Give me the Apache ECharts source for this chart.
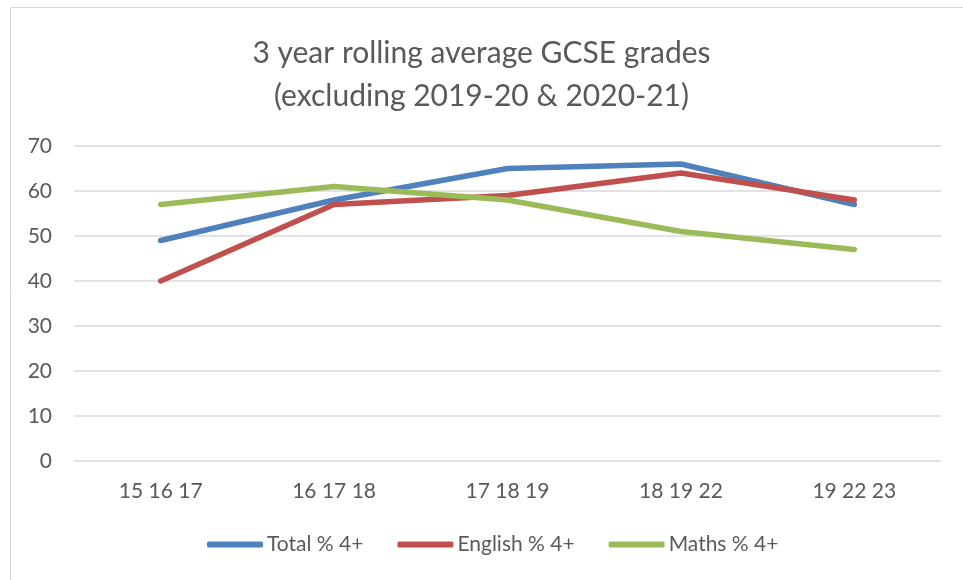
<!DOCTYPE html>
<html><head><meta charset="utf-8">
<script src="https://cdn.jsdelivr.net/npm/echarts@6/dist/echarts.min.js"></script>
<style>html,body{margin:0;padding:0;background:#fff}#c{width:963px;height:580px}</style>
</head><body><div id="c"></div>
<script>
const categories = ['15 16 17', '16 17 18', '17 18 19', '18 19 22', '19 22 23'];
const totalPct = [49, 58, 65, 66, 57];
const englishPct = [40, 57, 59, 64, 58];
const mathsPct = [57, 61, 58, 51, 47];
const seriesNames = ['Total % 4+', 'English % 4+', 'Maths % 4+'];
const colors = ['#4f81bd', '#c0504d', '#9bbb59'];
const FONT = 'Lato, "Open Sans", sans-serif';
const TXT = '#595959';

const chart = echarts.init(document.getElementById('c'), null, {renderer: 'canvas'});
const mk = (name, data, color) => ({
  name, type: 'line', data, symbol: 'none', smooth: false,
  lineStyle: {width: 5.5, color, cap: 'round', join: 'round'},
  itemStyle: {color}
});
chart.setOption({
  animation: false,
  graphic: [{type: 'rect', shape: {x: 10.5, y: 7.5, width: 1000, height: 1000},
    style: {fill: 'none', stroke: '#d9d9d9', lineWidth: 1}, silent: true}],
  title: {
    text: '3 year rolling average GCSE grades\n(excluding 2019-20 & 2020-21)',
    left: 'center', top: 27,
    textStyle: {fontFamily: FONT, fontSize: 30, fontWeight: 'normal', color: TXT, lineHeight: 43}
  },
  legend: {
    bottom: 20, left: 202, itemGap: 34, itemWidth: 56, itemHeight: 6,
    icon: 'roundRect',
    textStyle: {fontFamily: FONT, fontSize: 21, color: TXT, padding: [0, 0, 0, -1]},
    data: seriesNames
  },
  grid: {left: 74, right: 22, top: 146, bottom: 119, containLabel: false},
  xAxis: {
    type: 'category', data: categories, boundaryGap: true,
    axisLine: {show: false}, axisTick: {show: false},
    axisLabel: {fontFamily: FONT, fontSize: 21, color: TXT, margin: 20}
  },
  yAxis: {
    type: 'value', min: 0, max: 70, interval: 10,
    axisLine: {show: false}, axisTick: {show: false},
    splitLine: {lineStyle: {color: '#d9d9d9', width: 1.5}},
    axisLabel: {fontFamily: FONT, fontSize: 21, color: TXT, margin: 22}
  },
  series: [
    mk(seriesNames[0], totalPct, colors[0]),
    mk(seriesNames[1], englishPct, colors[1]),
    mk(seriesNames[2], mathsPct, colors[2])
  ]
});
</script></body></html>
